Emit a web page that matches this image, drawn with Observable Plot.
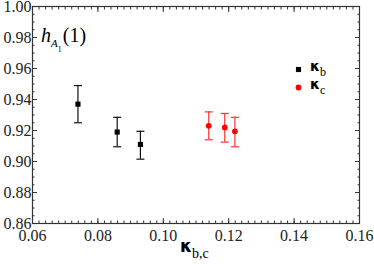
<!DOCTYPE html>
<html>
<head>
<meta charset="utf-8">
<script src="https://cdn.jsdelivr.net/npm/d3@7"></script>
<script src="https://cdn.jsdelivr.net/npm/@observablehq/plot@0.6"></script>
<style>
  html, body { margin: 0; padding: 0; background: #fff; }
  svg text { font-family: "Liberation Serif", "DejaVu Serif", serif; }
</style>
</head>
<body>
<div id="chart"></div>
<script>
// ---- data ----
const kappaB = [0.0739, 0.0859, 0.0930];
const hB     = [0.9370, 0.9190, 0.9110];
const hBlo   = [0.9250, 0.9095, 0.9015];
const hBhi   = [0.9490, 0.9285, 0.9195];

const kappaC = [0.1139, 0.1188, 0.1219];
const hC     = [0.9230, 0.9220, 0.9195];
const hClo   = [0.9140, 0.9125, 0.9095];
const hChi   = [0.9320, 0.9310, 0.9285];

const xMajor = [0.06, 0.08, 0.10, 0.12, 0.14, 0.16];
const yMajor = [0.86, 0.88, 0.90, 0.92, 0.94, 0.96, 0.98, 1.00];
const xMinor = d3.range(0, 51).map(i => 0.06 + i * 0.002);
const yMinor = d3.range(0, 29).map(i => 0.86 + i * 0.005);

const seriesB = kappaB.map((k, i) => ({k, h: hB[i], lo: hBlo[i], hi: hBhi[i]}));
const seriesC = kappaC.map((k, i) => ({k, h: hC[i], lo: hClo[i], hi: hChi[i]}));

const fmt = d3.format(".2f");
const axisColor = "#333";
const capSymbol = { draw(ctx) { ctx.moveTo(-4, 0); ctx.lineTo(4, 0); } };

// inward-pointing ticks on all four sides
const tickAxes = [];
for (const [ticks, len] of [[xMajor, 5], [xMinor, 2.5]]) {
  tickAxes.push(Plot.axisX({anchor: "bottom", ticks, tickSize: len, dy: -len, text: null, label: null, stroke: axisColor}));
  tickAxes.push(Plot.axisX({anchor: "top", ticks, tickSize: len, dy: len, text: null, label: null, stroke: axisColor}));
}
for (const [ticks, len] of [[yMajor, 5], [yMinor, 2.5]]) {
  tickAxes.push(Plot.axisY({anchor: "left", ticks, tickSize: len, dx: len, text: null, label: null, stroke: axisColor}));
  tickAxes.push(Plot.axisY({anchor: "right", ticks, tickSize: len, dx: -len, text: null, label: null, stroke: axisColor}));
}

const plot = Plot.plot({
  width: 374,
  height: 264,
  marginLeft: 32,
  marginRight: 15,
  marginTop: 6,
  marginBottom: 41,
  x: {domain: [0.06, 0.16]},
  y: {domain: [0.86, 1.00]},
  style: {fontFamily: "Liberation Serif", background: "#fff"},
  marks: [
    ...tickAxes,
    Plot.axisX({anchor: "bottom", ticks: xMajor, tickSize: 0, tickPadding: 6, tickFormat: fmt,
                fontSize: 16, label: null, fill: "#222"}),
    Plot.axisY({anchor: "left", ticks: yMajor, tickSize: 0, tickPadding: 1, tickFormat: fmt,
                fontSize: 16, label: null, fill: "#222"}),
    Plot.frame({stroke: axisColor, strokeWidth: 1.2}),
    // black series
    Plot.ruleX(seriesB, {x: "k", y1: "lo", y2: "hi", stroke: "#111", strokeWidth: 1.2}),
    Plot.dot(seriesB, {x: "k", y: "lo", symbol: capSymbol, stroke: "#111", strokeWidth: 1.2}),
    Plot.dot(seriesB, {x: "k", y: "hi", symbol: capSymbol, stroke: "#111", strokeWidth: 1.2}),
    Plot.dot(seriesB, {x: "k", y: "h", symbol: "square", fill: "#000", r: 2.9}),
    // red series
    Plot.ruleX(seriesC, {x: "k", y1: "lo", y2: "hi", stroke: "#ff3030", strokeWidth: 1.2}),
    Plot.dot(seriesC, {x: "k", y: "lo", symbol: capSymbol, stroke: "#ff3030", strokeWidth: 1.2}),
    Plot.dot(seriesC, {x: "k", y: "hi", symbol: capSymbol, stroke: "#ff3030", strokeWidth: 1.2}),
    Plot.dot(seriesC, {x: "k", y: "h", fill: "#ff0000", r: 2.9}),
    // legend markers
    Plot.dot([0], {frameAnchor: "top-right", dx: -61, dy: 63, symbol: "square", fill: "#000", r: 2.9}),
    Plot.dot([0], {frameAnchor: "top-right", dx: -61, dy: 81, fill: "#ff0000", r: 2.9})
  ]
});

document.getElementById("chart").appendChild(plot);

// ---- text annotations with subscripts ----
const svg = d3.select(plot);
const g = svg.append("g").attr("fill", "#000").attr("text-anchor", "start");

// y label inside plot: h_{A_1}(1)
const yl = g.append("text").attr("x", 41).attr("y", 42).attr("font-size", 20);
yl.append("tspan").attr("font-style", "italic").text("h");
yl.append("tspan").attr("font-style", "italic").attr("font-size", 11).attr("dy", 5).text("A");
yl.append("tspan").attr("font-size", 8).attr("dy", 5).text("1");
yl.append("tspan").attr("dy", -10).attr("dx", 1).text("(1)");

// x label: κ_{b,c}
const xl = g.append("text").attr("x", 180).attr("y", 252).attr("font-size", 19);
xl.append("tspan").attr("font-family", "DejaVu Sans").attr("font-weight", "bold").attr("font-size", 17).text("κ");
xl.append("tspan").attr("font-size", 14).attr("dy", 6).text("b,c");

// legend labels
const l1 = g.append("text").attr("x", 310).attr("y", 71).attr("font-size", 15);
l1.append("tspan").attr("font-family", "DejaVu Sans").attr("font-weight", "bold").attr("font-size", 14).text("κ");
l1.append("tspan").attr("font-size", 12).attr("dy", 5).text("b");

const l2 = g.append("text").attr("x", 310).attr("y", 89).attr("font-size", 15);
l2.append("tspan").attr("font-family", "DejaVu Sans").attr("font-weight", "bold").attr("font-size", 14).text("κ");
l2.append("tspan").attr("font-size", 12).attr("dy", 5).text("c");
</script>
</body>
</html>
